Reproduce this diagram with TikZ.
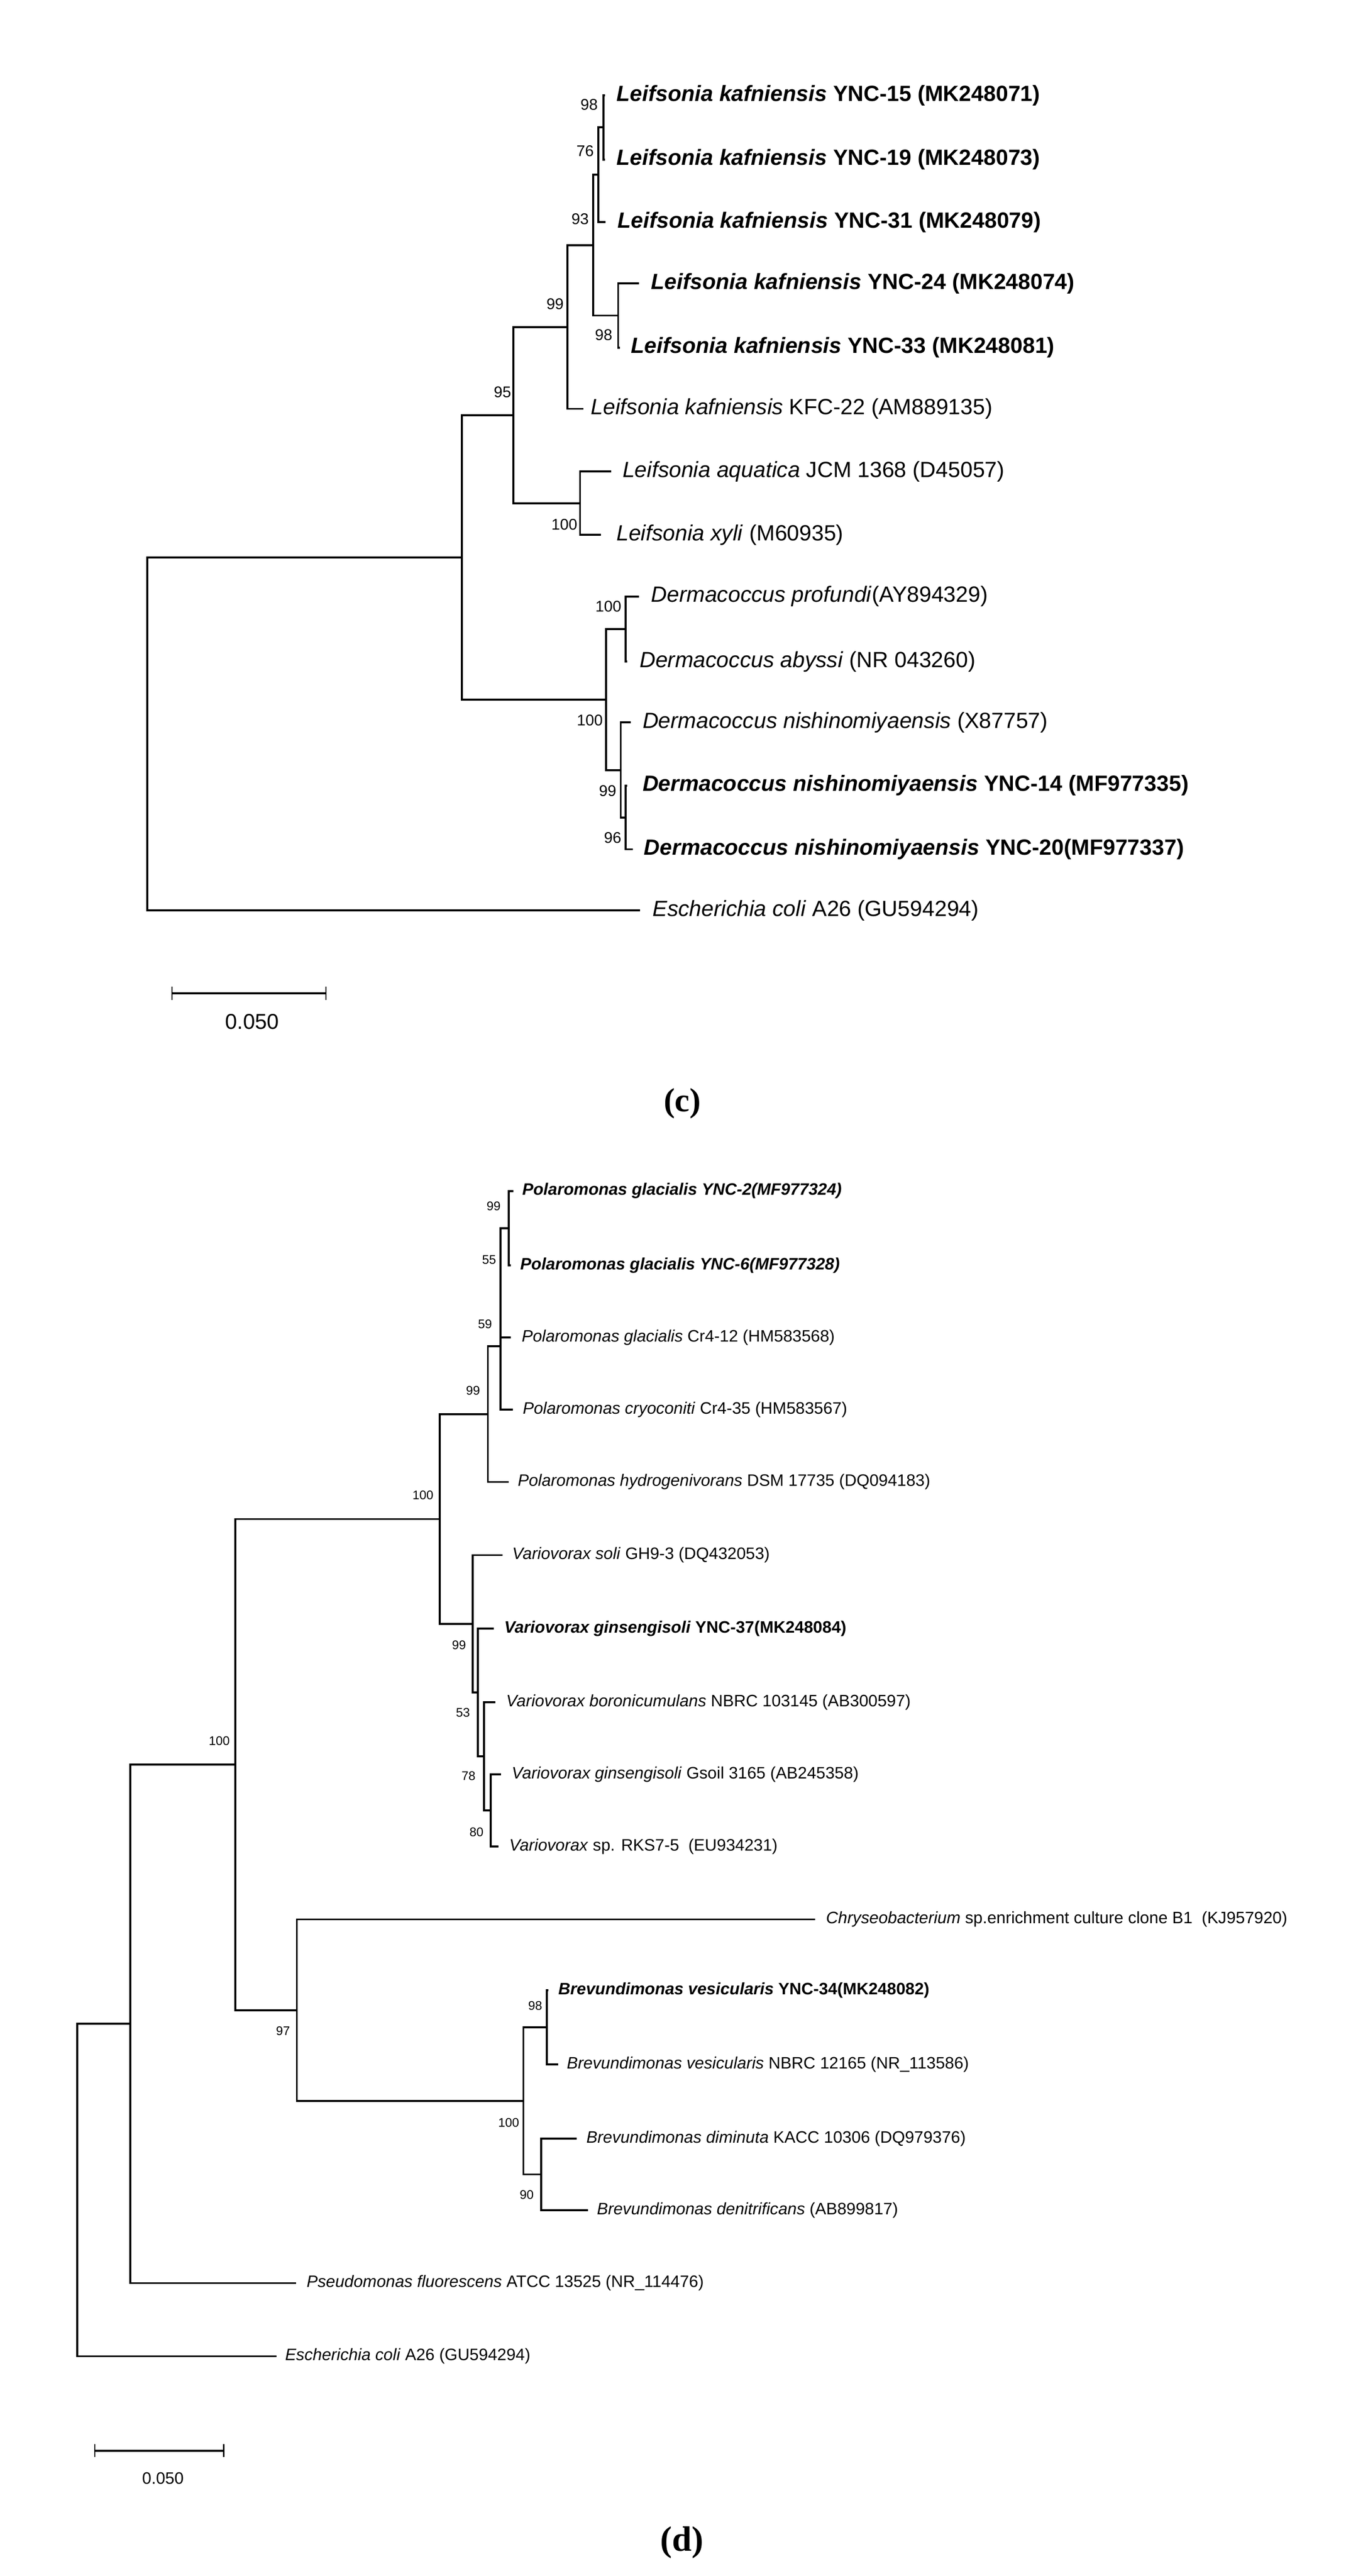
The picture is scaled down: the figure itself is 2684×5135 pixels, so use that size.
\documentclass[tikz,border=0pt]{standalone}
\usepackage{fontspec}
\setmainfont{Liberation Sans}
\newfontfamily\panelfont{Liberation Serif}
\usepackage{tikz}

\begin{document}
\begin{tikzpicture}[x=0.1mm,y=-0.1mm,
    branch/.style={line width=1.1pt},
    scaletick/.style={line width=0.8pt},
    tipc/.style={anchor=west,inner sep=0pt,font=\fontsize{12.5}{15}\selectfont},
    tipd/.style={anchor=west,inner sep=0pt,font=\fontsize{9.4}{11}\selectfont},
    bootc/.style={anchor=east,inner sep=0pt,font=\fontsize{8.8}{10}\selectfont},
    bootd/.style={anchor=east,inner sep=0pt,font=\fontsize{7.1}{8}\selectfont},
    panel/.style={inner sep=0pt,font=\panelfont\bfseries\fontsize{19}{22}\selectfont}]
                % Page frame
                \useasboundingbox (0,0) rectangle (2684,5135);
                % Tree (c): tips as name/branch end/label x/y/text
                \foreach \nm/\ex/\lx/\yy/\txt in {
                    c1/1207/1229/190/{\textbf{\textit{Leifsonia kafniensis} YNC-15 (MK248071)}},
                    c2/1207/1229/318/{\textbf{\textit{Leifsonia kafniensis} YNC-19 (MK248073)}},
                    c3/1208/1231/443/{\textbf{\textit{Leifsonia kafniensis} YNC-31 (MK248079)}},
                    c4/1275/1298/565/{\textbf{\textit{Leifsonia kafniensis} YNC-24 (MK248074)}},
                    c5/1237/1258/693/{\textbf{\textit{Leifsonia kafniensis} YNC-33 (MK248081)}},
                    c6/1164/1178/815/{\textit{Leifsonia kafniensis} KFC-22 (AM889135)},
                    c7/1219/1241/940/{\textit{Leifsonia aquatica} JCM 1368 (D45057)},
                    c8/1198/1229/1066/{\textit{Leifsonia xyli} (M60935)},
                    c9/1275/1298/1189/{\textit{Dermacoccus profundi}(AY894329)},
                    c10/1251/1275/1319/{\textit{Dermacoccus abyssi} (NR 043260)},
                    c11/1258/1281/1440/{\textit{Dermacoccus nishinomiyaensis} (X87757)},
                    c12/1251/1281/1566/{\textbf{\textit{Dermacoccus nishinomiyaensis} YNC-14 (MF977335)}},
                    c13/1262/1284/1693/{\textbf{\textit{Dermacoccus nishinomiyaensis} YNC-20(MF977337)}},
                    c14/1277/1301/1815/{\textit{Escherichia coli} A26 (GU594294)}}{
                    \coordinate (\nm) at (\ex,\yy);
                    \node[tipc] (\nm-lab) at (\lx,\yy) {\txt};
                }
                % Tree (c): inner nodes
                \coordinate (cA) at (1204,254);
                \coordinate (cB) at (1193,348.5);
                \coordinate (cC) at (1233,629);
                \coordinate (cD) at (1183,489);
                \coordinate (cE) at (1132,652);
                \coordinate (cF) at (1157,1003);
                \coordinate (cG) at (1024,827.5);
                \coordinate (cH) at (1248,1254);
                \coordinate (cI) at (1248,1629.5);
                \coordinate (cJ) at (1238,1535);
                \coordinate (cK) at (1209,1394.5);
                \coordinate (cL) at (921,1111);
                \coordinate (cR) at (294,1463);
                % Tree (c): branches from parent to child
                \foreach \p/\c in {cA/c1,cA/c2,cB/cA,cB/c3,cC/c4,cC/c5,cD/cB,cD/cC,
                    cE/cD,cE/c6,cF/c7,cF/c8,cG/cE,cG/cF,cH/c9,cH/c10,cI/c12,cI/c13,
                    cJ/c11,cJ/cI,cK/cH,cK/cJ,cL/cG,cL/cK,cR/cL,cR/c14}{
                    \draw[branch] (\p) |- (\c);
                }
                % Tree (c): bootstrap values
                \foreach \nm/\xx/\yy/\val in {cA/1193/209/98,cB/1185/301/76,cD/1175/437/93,
                    cC/1222/668/98,cE/1125/606/99,cG/1020/782/95,cF/1152/1046/100,
                    cH/1240/1209/100,cK/1203/1436/100,cJ/1230/1577/99,cI/1240/1670/96}{
                    \node[bootc] (b\nm) at (\xx,\yy) {\val};
                }
                % Tree (c): scale bar
                \coordinate (cs1) at (343,1980);
                \coordinate (cs2) at (650,1980);
                \draw[branch] (cs1) -- (cs2);
                \draw[scaletick] (343,1967) -- (343,1993);
                \draw[scaletick] (650,1967) -- (650,1993);
                \node[inner sep=0pt,font=\fontsize{12.2}{14}\selectfont] (cscale) at (503,2037) {0.050};
                \node[panel] (clab) at (1361,2200) {(c)};

                % Tree (d): tips as name/branch end/label x/y/text
                \foreach \nm/\ex/\lx/\yy/\txt in {
                    d1/1024/1041/2374/{\textbf{\textit{Polaromonas glacialis YNC-2(MF977324)}}},
                    d2/1019/1037/2522/{\textbf{\textit{Polaromonas glacialis YNC-6(MF977328)}}},
                    d3/1019/1040/2666/{\textit{Polaromonas glacialis} Cr4-12 (HM583568)},
                    d4/1023/1042/2810/{\textit{Polaromonas cryoconiti} Cr4-35 (HM583567)},
                    d5/1015/1032/2954/{\textit{Polaromonas hydrogenivorans} DSM 17735 (DQ094183)},
                    d6/1002/1021/3100/{\textit{Variovorax soli} GH9-3 (DQ432053)},
                    d7/985/1005/3246/{\textbf{\textit{Variovorax ginsengisoli} YNC-37(MK248084)}},
                    d8/988/1009/3393/{\textit{Variovorax boronicumulans} NBRC 103145 (AB300597)},
                    d9/999/1020/3537/{\textit{Variovorax ginsengisoli} Gsoil 3165 (AB245358)},
                    d10/994/1015/3681/{\textit{Variovorax} sp. RKS7-5\ \ (EU934231)},
                    d11/1626/1647/3826/{\textit{Chryseobacterium} sp.enrichment culture clone B1\ \ (KJ957920)},
                    d12/1094/1113/3967/{\textbf{\textit{Brevundimonas vesicularis} YNC-34(MK248082)}},
                    d13/1113/1130/4115/{\textit{Brevundimonas vesicularis} NBRC 12165 (NR\_113586)},
                    d14/1150/1169/4263/{\textit{Brevundimonas diminuta} KACC 10306 (DQ979376)},
                    d15/1173/1190/4406/{\textit{Brevundimonas denitrificans} (AB899817)},
                    d16/591/611/4551/{\textit{Pseudomonas fluorescens} ATCC 13525 (NR\_114476)},
                    d17/551/568/4697/{\textit{Escherichia coli} A26 (GU594294)}}{
                    \coordinate (\nm) at (\ex,\yy);
                    \node[tipd] (\nm-lab) at (\lx,\yy) {\txt};
                }
                % Tree (d): inner nodes
                \coordinate (dA) at (1015,2448);
                \coordinate (dB) at (998,2557);
                \coordinate (dC) at (998,2683.5);
                \coordinate (dD) at (973,2819);
                \coordinate (dE) at (979,3609);
                \coordinate (dF) at (965,3501);
                \coordinate (dG) at (953,3373.5);
                \coordinate (dH) at (943,3237);
                \coordinate (dI) at (877,3028);
                \coordinate (dJ) at (1091,4041);
                \coordinate (dK) at (1079,4334.5);
                \coordinate (dL) at (1044,4188);
                \coordinate (dM) at (592,4007);
                \coordinate (dN) at (469,3517.5);
                \coordinate (dO) at (260,4034);
                \coordinate (dR) at (154,4365.5);
                % Tree (d): branches from parent to child
                \foreach \p/\c in {dA/d1,dA/d2,dB/dA,dB/d3,dC/dB,dC/d4,dD/dC,dD/d5,
                    dE/d9,dE/d10,dF/d8,dF/dE,dG/d7,dG/dF,dH/d6,dH/dG,dI/dD,dI/dH,
                    dJ/d12,dJ/d13,dK/d14,dK/d15,dL/dJ,dL/dK,dM/d11,dM/dL,
                    dN/dI,dN/dM,dO/dN,dO/d16,dR/dO,dR/d17}{
                    \draw[branch] (\p) |- (\c);
                }
                % Tree (d): bootstrap values
                \foreach \nm/\xx/\yy/\val in {dA/999/2404/99,dB/990/2511/55,dC/982/2639/59,
                    dD/958/2772/99,dI/865/2980/100,dH/930/3279/99,dG/938/3414/53,
                    dF/949/3540/78,dE/965/3652/80,dN/459/3470/100,dM/579/4049/97,
                    dJ/1082/3998/98,dL/1036/4231/100,dK/1065/4375/90}{
                    \node[bootd] (b\nm) at (\xx,\yy) {\val};
                }
                % Tree (d): scale bar
                \coordinate (ds1) at (189,4885);
                \coordinate (ds2) at (446,4885);
                \draw[branch] (ds1) -- (ds2);
                \draw[scaletick] (189,4872) -- (189,4898);
                \draw[scaletick] (446,4872) -- (446,4898);
                \node[inner sep=0pt,font=\fontsize{9.4}{11}\selectfont] (dscale) at (325,4940) {0.050};
                \node[panel,font=\panelfont\bfseries\fontsize{20}{23}\selectfont] (dlab) at (1360,5068) {(d)};
            \end{tikzpicture}
\end{document}
